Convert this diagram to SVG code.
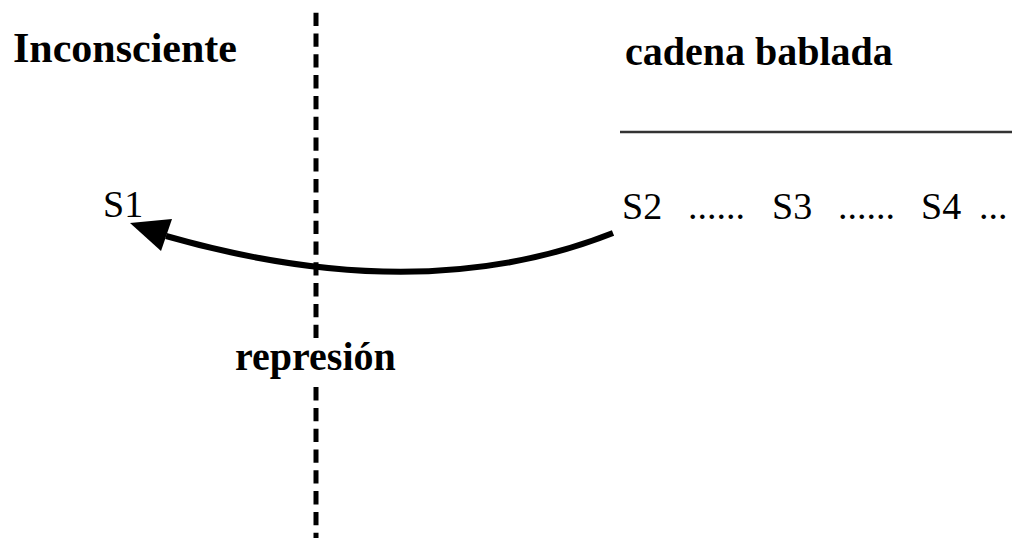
<svg xmlns="http://www.w3.org/2000/svg" width="1012" height="544" viewBox="0 0 1012 544">
<style>
.t{font-family:"Liberation Serif","Times New Roman",serif;fill:#000}
.h{font-weight:bold}
.dash{stroke:#000;stroke-width:5;stroke-dasharray:13.3 7.5;fill:none}
.rule{stroke:#333;stroke-width:2.5;fill:none}
.arc{stroke:#000;stroke-width:6;fill:none}
</style>
<rect width="1012" height="544" fill="#fff"/>
<g id="connectors">
<path class="arc" d="M 613 233 Q 421 309 166 236"/>
<polygon points="130,223 172,219 161,251" fill="#000"/>
</g>
<g id="boundary">
<line class="dash" x1="316" y1="12.7" x2="316" y2="538"/>
</g>
<g id="chain-line">
<line class="rule" x1="620" y1="132" x2="1012" y2="132"/>
</g>
<g id="inconsciente">
<text class="t h" x="13" y="62" font-size="42">Inconsciente</text>
</g>
<g id="cadena">
<text class="t h" x="625" y="65" font-size="40">cadena bablada</text>
</g>
<g id="s1">
<text class="t" x="103" y="217" font-size="38">S1</text>
</g>
<g id="chain">
<text class="t" y="219" font-size="38"><tspan x="622">S2</tspan><tspan x="688">......</tspan><tspan x="772">S3</tspan><tspan x="838">......</tspan><tspan x="921">S4</tspan><tspan x="979">...</tspan></text>
</g>
<g id="represion">
<rect x="232" y="339" width="172" height="48" fill="#fff"/>
<text class="t h" x="235" y="370" font-size="40">represión</text>
</g>
</svg>
